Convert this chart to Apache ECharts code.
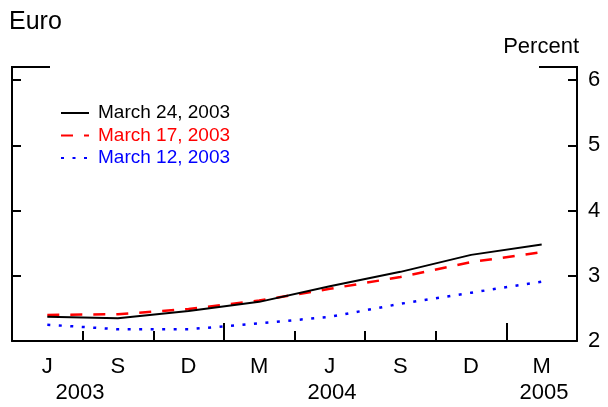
<!DOCTYPE html>
<html>
<head>
<meta charset="utf-8">
<script src="https://cdn.jsdelivr.net/npm/echarts@6/dist/echarts.min.js"></script>
<style>
html,body{margin:0;padding:0;background:#fff;}
#chart{width:608px;height:407px;}
</style>
</head>
<body>
<div id="chart"></div>
<script>
// Quarter labels (mid-quarter months), June 2003 .. March 2005
var categories = ['J', 'S', 'D', 'M', 'J', 'S', 'D', 'M'];
var yearLabels = ['2003', '2004', '2005'];
var seriesNames = ['March 24, 2003', 'March 17, 2003', 'March 12, 2003'];
var march24 = [2.37, 2.35, 2.46, 2.60, 2.84, 3.06, 3.32, 3.48];
var march17 = [2.40, 2.41, 2.49, 2.62, 2.80, 2.98, 3.21, 3.36];
var march12 = [2.25, 2.18, 2.18, 2.27, 2.37, 2.57, 2.74, 2.91];
var yTicks = [2, 3, 4, 5, 6];

var FONT = "'Liberation Sans', Arial, Helvetica, sans-serif";
var chart = echarts.init(document.getElementById('chart'), null, {renderer: 'canvas'});

var option = {
  animation: false,
  backgroundColor: '#fff',
  textStyle: {fontFamily: FONT},
  grid: {left: 12, right: 31, top: 67, bottom: 66, containLabel: false},
  legend: {
    orient: 'vertical',
    left: 55,
    top: 98,
    itemWidth: 28,
    itemHeight: 14,
    itemGap: 2.5,
    itemStyle: {opacity: 0},
    textStyle: {fontFamily: FONT, fontSize: 19, padding: [0, 0, 0, 4], lineHeight: 20},
    data: [
      {name: seriesNames[0], textStyle: {color: '#000'}},
      {name: seriesNames[1], textStyle: {color: '#ff0000'}},
      {name: seriesNames[2], textStyle: {color: '#0000ff'}}
    ]
  },
  xAxis: [
    {
      type: 'category',
      position: 'bottom',
      data: categories,
      boundaryGap: true,
      axisLine: {show: true, lineStyle: {color: '#000', width: 2}},
      axisTick: {show: true, inside: true, length: 10, interval: 0, lineStyle: {color: '#000', width: 2}},
      axisLabel: {interval: 0, color: '#000', fontSize: 22, fontFamily: FONT, margin: 15},
      splitLine: {show: false}
    },
    {
      type: 'category',
      position: 'bottom',
      data: categories,
      boundaryGap: true,
      axisLine: {show: false},
      axisTick: {show: true, inside: true, length: 18,
        interval: function (idx) { return idx === 3 || idx === 7; },
        lineStyle: {color: '#000', width: 2}},
      axisLabel: {show: false},
      splitLine: {show: false}
    }
  ],
  yAxis: [
    {
      type: 'value',
      position: 'right',
      min: yTicks[0],
      max: 6.2,
      interval: 1,
      axisLine: {show: true, lineStyle: {color: '#000', width: 2}},
      axisTick: {show: true, inside: true, length: 9, lineStyle: {color: '#000', width: 2}},
      axisLabel: {color: '#000', fontSize: 22, fontFamily: FONT, margin: 11,
        formatter: function (v) { return yTicks.indexOf(v) >= 0 ? String(v) : ''; }},
      splitLine: {show: false}
    },
    {
      type: 'value',
      position: 'left',
      min: yTicks[0],
      max: 6.2,
      interval: 1,
      axisLine: {show: true, lineStyle: {color: '#000', width: 2}},
      axisTick: {show: true, inside: true, length: 9, lineStyle: {color: '#000', width: 2}},
      axisLabel: {show: false},
      splitLine: {show: false}
    }
  ],
  series: [
    {
      name: seriesNames[0], type: 'line', data: march24, symbol: 'none',
      lineStyle: {color: '#000', width: 2, type: 'solid'}, itemStyle: {color: '#000'}, z: 5
    },
    {
      name: seriesNames[1], type: 'line', data: march17, symbol: 'none',
      lineStyle: {color: '#ff0000', width: 2.5, type: [12, 11]}, itemStyle: {color: '#ff0000'}, z: 4
    },
    {
      name: seriesNames[2], type: 'line', data: march12, symbol: 'none',
      lineStyle: {color: '#0000ff', width: 2.5, type: [3, 8.5]}, itemStyle: {color: '#0000ff'}, z: 3
    }
  ],
  graphic: [
    {type: 'text', x: 9, y: 22, style: {text: 'Euro', font: '25px ' + FONT, fill: '#000', verticalAlign: 'middle'}},
    {type: 'text', x: 579, y: 47, style: {text: 'Percent', font: '22px ' + FONT, fill: '#000', align: 'right', verticalAlign: 'middle'}},
    {type: 'line', shape: {x1: 11, y1: 67, x2: 50, y2: 67}, style: {stroke: '#000', lineWidth: 2}},
    {type: 'line', shape: {x1: 539, y1: 67, x2: 578, y2: 67}, style: {stroke: '#000', lineWidth: 2}},
    {type: 'text', x: 80, y: 393, style: {text: yearLabels[0], font: '22px ' + FONT, fill: '#000', align: 'center', verticalAlign: 'middle'}},
    {type: 'text', x: 332, y: 393, style: {text: yearLabels[1], font: '22px ' + FONT, fill: '#000', align: 'center', verticalAlign: 'middle'}},
    {type: 'text', x: 544, y: 393, style: {text: yearLabels[2], font: '22px ' + FONT, fill: '#000', align: 'center', verticalAlign: 'middle'}}
  ]
};
chart.setOption(option);
</script>
</body>
</html>
